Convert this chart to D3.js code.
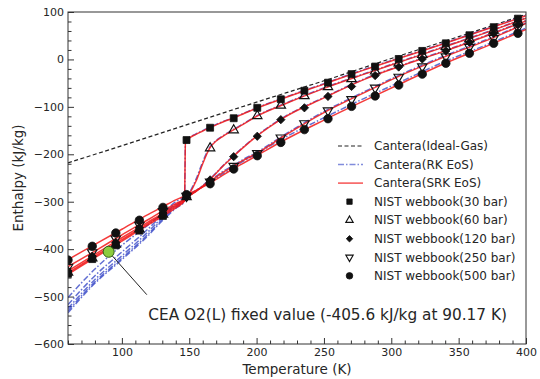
<!DOCTYPE html>
<html>
<head>
<meta charset="utf-8">
<script src="https://cdn.jsdelivr.net/npm/d3@7"></script>
<style>
body { margin: 0; background: #fff; }
svg text { font-family: "DejaVu Sans", sans-serif; fill: #262626; }
</style>
</head>
<body>
<svg id="chart" width="540" height="379"></svg>
<script>
// NIST webbook temperatures (K) and enthalpies (kJ/kg) per pressure
const nistT = [60, 78, 95.5, 113, 130.5, 148, 165.5, 183, 200.5, 218, 235.5, 253, 270.5, 288, 305.5, 323, 340.5, 358, 376, 394];
const nist30 = [-452, -421, -392, -361, -330, -170, -144, -124, -102, -84, -66, -49, -31, -15, 1, 18, 34, 51, 68, 86];
const nist60 = [-449, -419, -390, -358, -327, -290, -187, -149, -119, -97, -77, -58, -41, -25, -8, 10, 27, 43, 61, 80];
const nist120 = [-446, -415, -386, -355, -324, -291, -254, -205, -162, -127, -102, -78, -57, -34, -16, 1, 18, 36, 55, 73];
const nist250 = [-438, -407, -378, -349, -320, -288, -258, -225, -198, -165, -135, -108, -84, -60, -37, -15, 6, 26, 45, 67];
const nist500 = [-423, -394, -366, -339, -312, -285, -262, -231, -203, -175, -148, -125, -99, -77, -54, -31, -8, 13, 34, 55];

// Cantera curves, read at these temperatures
const curveT = [60, 80, 100, 120, 130, 140, 146.5, 147.2, 150, 155, 160, 165, 170, 175, 182.5, 190, 200, 220, 250, 280, 310, 340, 370, 400];
const srk30 = [-453, -418, -383, -348, -331, -313, -298, -174, -166, -158, -151, -144, -138, -132, -124, -115, -103, -82, -52, -22, 6, 34, 63, 92];
const srk60 = [-450, -415, -380, -345, -328, -310, -298, -296, -284, -257, -220, -188, -172, -162, -149, -137, -120, -95, -61, -31, -2, 27, 56, 87];
const srk120 = [-446, -411, -376, -342, -325, -307, -296, -294, -288, -278, -267, -254, -240, -225, -205, -186, -162, -123, -81, -42, -11, 18, 49, 81];
const srk250 = [-437, -404, -370, -337, -320, -304, -294, -292, -287, -278, -268, -258, -248, -238, -226, -213, -198, -162, -112, -70, -30, 6, 39, 76];
const srk500 = [-422, -390, -358, -326, -311, -296, -288, -287, -283, -276, -269, -262, -253, -244, -231, -219, -203, -171, -128, -87, -47, -8, 27, 63];
const rk30 = [-534, -472, -422, -370, -340, -314, -299, -173, -165, -157, -150, -143, -137, -131, -123, -114, -102, -81, -51, -21, 7, 35, 64, 93];
const rk60 = [-530, -469, -419, -367, -337, -311, -299, -296, -282, -253, -216, -186, -171, -161, -148, -136, -119, -94, -60, -30, -1, 28, 57, 88];
const rk120 = [-525, -464, -414, -362, -333, -308, -297, -295, -288, -278, -266, -253, -239, -224, -204, -185, -161, -122, -80, -41, -10, 19, 50, 82];
const rk250 = [-517, -456, -406, -356, -328, -305, -295, -293, -287, -277, -267, -256, -246, -236, -224, -211, -196, -160, -110, -68, -28, 8, 41, 77];
const rk500 = [-502, -442, -392, -348, -325, -300, -290, -289, -284, -276, -268, -260, -250, -241, -228, -215, -199, -166, -123, -82, -43, -4, 30, 66];

const idealT = [60, 100, 150, 200, 250, 300, 350, 400];
const idealH = [-218, -182, -136, -90, -45, 2, 48, 95];

// CEA fixed point
const ceaT = 90.17, ceaH = -405.6;

const legendLabels = ["Cantera(Ideal-Gas)", "Cantera(RK EoS)", "Cantera(SRK EoS)",
  "NIST webbook(30 bar)", "NIST webbook(60 bar)", "NIST webbook(120 bar)",
  "NIST webbook(250 bar)", "NIST webbook(500 bar)"];

const svg = d3.select("#chart");
const plotL = 68, plotR = 526, plotT = 12, plotB = 344;

const x = d3.scaleLinear().domain([60, 400]).range([plotL, plotR]);
const y = d3.scaleLinear().domain([-600, 100]).range([plotB, plotT]);

svg.append("defs").append("clipPath").attr("id", "clip")
  .append("rect").attr("x", plotL).attr("y", plotT).attr("width", plotR - plotL).attr("height", plotB - plotT);

// axes: inward ticks, major + minor
const xAxis = svg.append("g").attr("transform", `translate(0,${plotB})`)
  .call(d3.axisBottom(x).tickValues(d3.range(100, 401, 50)).tickSize(-6).tickPadding(4));
const xMinor = svg.append("g").attr("transform", `translate(0,${plotB})`)
  .call(d3.axisBottom(x).tickValues(d3.range(60, 401, 10).filter(v => v % 50 !== 0)).tickSize(-3.5).tickFormat(""));
const yAxis = svg.append("g").attr("transform", `translate(${plotL},0)`)
  .call(d3.axisLeft(y).tickValues(d3.range(-600, 101, 100)).tickSize(-6).tickPadding(4));
const yMinor = svg.append("g").attr("transform", `translate(${plotL},0)`)
  .call(d3.axisLeft(y).tickValues(d3.range(-600, 101, 20).filter(v => v % 100 !== 0)).tickSize(-3.5).tickFormat(""));

[xAxis, xMinor, yAxis, yMinor].forEach(g => {
  g.select(".domain").remove();
  g.selectAll("line").attr("stroke", "#333");
  g.selectAll("text").style("font-size", "11px").attr("fill", "#262626");
});

svg.append("text").attr("x", (plotL + plotR) / 2).attr("y", 374)
  .attr("text-anchor", "middle").style("font-size", "13.5px").text("Temperature (K)");
svg.append("text").attr("transform", `translate(23,${(plotT + plotB) / 2}) rotate(-90)`)
  .attr("text-anchor", "middle").style("font-size", "13.5px").text("Enthalpy (kJ/kg)");

const plot = svg.append("g").attr("clip-path", "url(#clip)");
const line = d3.line().x(d => x(d[0])).y(d => y(d[1])).curve(d3.curveMonotoneX);

// ideal gas
plot.append("path").datum(d3.zip(idealT, idealH)).attr("d", line)
  .attr("fill", "none").attr("stroke", "#222").attr("stroke-width", 1.2).attr("stroke-dasharray", "4,2.5");

const blue = "#2d3fc4", red = "#f21818";
[rk30, rk60, rk120, rk250, rk500].forEach(s => {
  plot.append("path").datum(d3.zip(curveT, s)).attr("d", line)
    .attr("fill", "none").attr("stroke", blue).attr("stroke-opacity", 0.75)
    .attr("stroke-width", 1.5).attr("stroke-dasharray", "6,2,1.5,2");
});
[srk30, srk60, srk120, srk250, srk500].forEach(s => {
  plot.append("path").datum(d3.zip(curveT, s)).attr("d", line)
    .attr("fill", "none").attr("stroke", red).attr("stroke-opacity", 0.85).attr("stroke-width", 1.5);
});

// NIST markers
const markerSets = [
  { vals: nist30, type: d3.symbolSquare, size: 48, filled: true, rot: 0 },
  { vals: nist60, type: d3.symbolTriangle, size: 38, filled: false, rot: 0 },
  { vals: nist120, type: d3.symbolSquare, size: 34, filled: true, rot: 45 },
  { vals: nist250, type: d3.symbolTriangle, size: 38, filled: false, rot: 180 },
  { vals: nist500, type: d3.symbolCircle, size: 56, filled: true, rot: 0 }
];
function drawMarker(g, m, cx, cy, scale) {
  g.append("path")
    .attr("d", d3.symbol().type(m.type).size(m.size * scale)())
    .attr("transform", `translate(${cx},${cy}) rotate(${m.rot})`)
    .attr("fill", m.filled ? "#111" : "none")
    .attr("stroke", "#111").attr("stroke-width", m.filled ? 0.8 : 1.2);
}
markerSets.forEach(m => {
  nistT.forEach((t, i) => drawMarker(plot, m, x(t), y(m.vals[i]), 1));
});

// CEA point and annotation
const annoEnd = [118.5, -496];
svg.append("line").attr("x1", x(ceaT)).attr("y1", y(ceaH)).attr("x2", x(annoEnd[0])).attr("y2", y(annoEnd[1]))
  .attr("stroke", "#222").attr("stroke-width", 1);
svg.append("circle").attr("cx", x(ceaT)).attr("cy", y(ceaH)).attr("r", 5.5)
  .attr("fill", "#8ccc3e").attr("stroke", "#2f5e17").attr("stroke-width", 1);
svg.append("text").attr("x", x(annoEnd[0]) + 1.5).attr("y", 320)
  .style("font-size", "15.3px").text("CEA O2(L) fixed value (-405.6 kJ/kg at 90.17 K)");

// legend
const lg = svg.append("g");
const rowY = i => 146 + i * 18.55;
lg.append("line").attr("x1", 338).attr("x2", 363).attr("y1", rowY(0)).attr("y2", rowY(0))
  .attr("stroke", "#222").attr("stroke-width", 1.2).attr("stroke-dasharray", "4,2.5");
lg.append("line").attr("x1", 338).attr("x2", 363).attr("y1", rowY(1)).attr("y2", rowY(1))
  .attr("stroke", blue).attr("stroke-opacity", 0.6).attr("stroke-width", 1.5).attr("stroke-dasharray", "6,2,1.5,2");
lg.append("line").attr("x1", 338).attr("x2", 363).attr("y1", rowY(2)).attr("y2", rowY(2))
  .attr("stroke", red).attr("stroke-opacity", 0.75).attr("stroke-width", 1.5);
markerSets.forEach((m, i) => drawMarker(lg, m, 349.5, rowY(i + 3), 0.6));
legendLabels.forEach((t, i) => {
  lg.append("text").attr("x", 374).attr("y", rowY(i)).attr("dy", "0.35em")
    .style("font-size", "12px").text(t);
});

// frame
svg.append("rect").attr("x", plotL).attr("y", plotT).attr("width", plotR - plotL).attr("height", plotB - plotT)
  .attr("fill", "none").attr("stroke", "#333").attr("stroke-width", 1);
</script>
</body>
</html>
